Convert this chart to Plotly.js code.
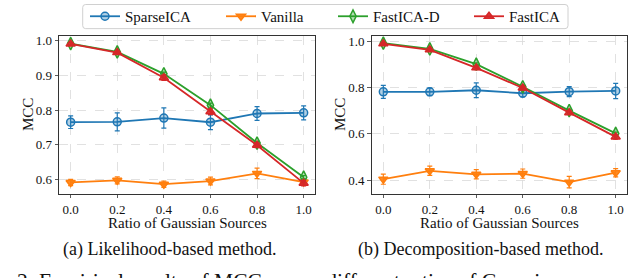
<!DOCTYPE html>
<html>
<head>
<meta charset="utf-8">
<script src="https://cdn.plot.ly/plotly-3.0.1.min.js"></script>
<style>html,body{margin:0;padding:0;background:#fff;}#chart{width:640px;height:278px;}</style>
</head>
<body>
<div id="chart"></div>
<script>
// ---- data ----
const ratios = [0.0, 0.2, 0.4, 0.6, 0.8, 1.0];
const seriesNames = ["SparseICA", "Vanilla", "FastICA-D", "FastICA"];

// (a) Likelihood-based method
const likSparse    = [0.765, 0.766, 0.777, 0.765, 0.790, 0.792];
const likSparseErr = [0.018, 0.026, 0.029, 0.021, 0.020, 0.020];
const likVanilla    = [0.592, 0.598, 0.587, 0.596, 0.618, 0.593];
const likVanillaErr = [0.009, 0.010, 0.009, 0.011, 0.015, 0.009];
const likFastD    = [0.991, 0.967, 0.904, 0.814, 0.705, 0.607];
const likFastDErr = [0.004, 0.005, 0.005, 0.006, 0.005, 0.005];
const likFast    = [0.990, 0.965, 0.893, 0.795, 0.699, 0.590];
const likFastErr = [0.004, 0.005, 0.008, 0.008, 0.007, 0.008];

// (b) Decomposition-based method
const decSparse    = [0.782, 0.782, 0.789, 0.776, 0.783, 0.786];
const decSparseErr = [0.028, 0.016, 0.032, 0.016, 0.022, 0.033];
const decVanilla    = [0.404, 0.440, 0.425, 0.428, 0.391, 0.432];
const decVanillaErr = [0.022, 0.020, 0.020, 0.020, 0.025, 0.018];
const decFastD    = [0.993, 0.968, 0.902, 0.804, 0.701, 0.602];
const decFastDErr = [0.004, 0.005, 0.006, 0.006, 0.006, 0.006];
const decFast    = [0.990, 0.964, 0.886, 0.799, 0.692, 0.587];
const decFastErr = [0.004, 0.006, 0.008, 0.008, 0.008, 0.010];

const xTickVals = [0.0, 0.2, 0.4, 0.6, 0.8, 1.0];
const xTitle = "Ratio of Gaussian Sources";
const yTitle = "MCC";
const captionA = "(a) Likelihood-based method.";
const captionB = "(b) Decomposition-based method.";
const figCaption = "2: Empirical results of MCC across different ratios of Gaussian sources. For each i";

// ---- styling ----
const colors = ["#1f77b4", "#ff7f0e", "#2ca02c", "#d62728"];
const fills  = ["rgba(31,119,180,0.35)", "rgba(255,127,14,0.9)", "rgba(44,160,44,0.35)", "rgba(214,39,40,0.9)"];
const symbols = ["circle", "triangle-down", "diamond-tall", "triangle-up"];
const legendIds = ["legend", "legend2", "legend3", "legend4"];
const FONT = "'Liberation Serif', 'Times New Roman', Times, serif";

function mk(i, y, err, xa, ya, show) {
  return {
    x: ratios, y: y, name: seriesNames[i], type: "scatter", mode: "lines+markers",
    xaxis: xa, yaxis: ya, showlegend: show, legend: legendIds[i],
    line: {color: colors[i], width: 1.8},
    marker: {symbol: symbols[i], size: (i === 2 ? 9 : 8), color: fills[i], line: {color: colors[i], width: 1.5}},
    error_y: {type: "data", array: err, visible: true, color: colors[i], thickness: 1.2, width: 2.5}
  };
}

const data = [
  mk(0, likSparse, likSparseErr, "x", "y", true),
  mk(1, likVanilla, likVanillaErr, "x", "y", true),
  mk(2, likFastD, likFastDErr, "x", "y", true),
  mk(3, likFast, likFastErr, "x", "y", true),
  mk(0, decSparse, decSparseErr, "x2", "y2", false),
  mk(1, decVanilla, decVanillaErr, "x2", "y2", false),
  mk(2, decFastD, decFastDErr, "x2", "y2", false),
  mk(3, decFast, decFastErr, "x2", "y2", false)
];

const W = 640, H = 278;
const yDom = [1 - 192.7 / H, 1 - 32.7 / H];
const TICKF = {family: FONT, size: 13, color: "#111"};
const xDomA = [59 / W, 315.3 / W], xDomB = [371.7 / W, 627.3 / W];

function xax(dom, anchor) {
  return {
    domain: dom, anchor: anchor, range: [-0.05, 1.05],
    tickvals: xTickVals, tickformat: ".1f",
    ticks: "outside", ticklen: 3, tickwidth: 0.8, tickcolor: "#333",
    showline: true, mirror: true, linecolor: "#333", linewidth: 1,
    showgrid: true, gridcolor: "#d9d9d9", griddash: "dash", gridwidth: 0.8,
    zeroline: false, automargin: false, tickfont: TICKF
  };
}
function yax(range, dtick, anchor) {
  return {
    domain: yDom, anchor: anchor, range: range, dtick: dtick, tick0: 0, tickformat: ".1f",
    ticks: "outside", ticklen: 3.5, tickwidth: 0.8, tickcolor: "#333",
    showline: true, mirror: true, linecolor: "#333", linewidth: 1,
    showgrid: true, gridcolor: "#d9d9d9", griddash: "dash", gridwidth: 0.8,
    zeroline: false, automargin: false, tickfont: TICKF
  };
}

function legendAt(px) {
  return {
    orientation: "h", x: px / W, y: 1 - 12.5 / H, xanchor: "left", yanchor: "middle",
    borderwidth: 0, bgcolor: "rgba(0,0,0,0)",
    font: {family: FONT, size: 15, color: "#111"}
  };
}

function ann(text, xpx, ypx, size, extra) {
  return Object.assign({text: text, xref: "paper", yref: "paper", x: xpx / W, y: 1 - ypx / H,
    xanchor: "center", yanchor: "middle", showarrow: false,
    font: {family: FONT, size: size, color: "#111"}}, extra || {});
}

// rounded legend frame
const lx0 = 82.7, lx1 = 568, ly0 = 0.5, ly1 = 25, rr = 3;
const framePath = `M${lx0 + rr},${ly0} L${lx1 - rr},${ly0} Q${lx1},${ly0} ${lx1},${ly0 + rr} L${lx1},${ly1 - rr} Q${lx1},${ly1} ${lx1 - rr},${ly1} L${lx0 + rr},${ly1} Q${lx0},${ly1} ${lx0},${ly1 - rr} L${lx0},${ly0 + rr} Q${lx0},${ly0} ${lx0 + rr},${ly0} Z`;
function toPaperPath(p) {
  return p.replace(/(-?[\d.]+),(-?[\d.]+)/g, (m, a, b) => (parseFloat(a) / W).toFixed(5) + "," + (1 - parseFloat(b) / H).toFixed(5));
}

const layout = {
  width: W, height: H,
  margin: {l: 0, r: 0, t: 0, b: 0},
  paper_bgcolor: "#fff", plot_bgcolor: "#fff",
  font: {family: FONT, color: "#111"},
  xaxis: xax(xDomA, "y"),
  yaxis: yax([0.559, 1.012], 0.1, "x"),
  xaxis2: xax(xDomB, "y2"),
  yaxis2: yax([0.340, 1.023], 0.2, "x2"),
  showlegend: true,
  legend: legendAt(85),
  legend2: legendAt(221),
  legend3: legendAt(333),
  legend4: legendAt(469),
  shapes: [
    {type: "path", xref: "paper", yref: "paper", path: toPaperPath(framePath),
     line: {color: "#d0d0d0", width: 1}, fillcolor: "rgba(0,0,0,0)", layer: "below"}
  ],
  annotations: [
    ann(xTitle, 187, 222, 15),
    ann(xTitle, 499.5, 222, 15),
    ann(yTitle, 28, 112.7, 15, {textangle: -90}),
    ann(yTitle, 340, 112.7, 15, {textangle: -90}),
    ann(captionA, 169.5, 249.5, 18),
    ann(captionB, 480, 249.5, 18),
    ann(figCaption, 15, 267, 21.5, {xanchor: "left", yanchor: "top"})
  ]
};

Plotly.newPlot("chart", data, layout, {displayModeBar: false, staticPlot: true});
</script>
</body>
</html>
